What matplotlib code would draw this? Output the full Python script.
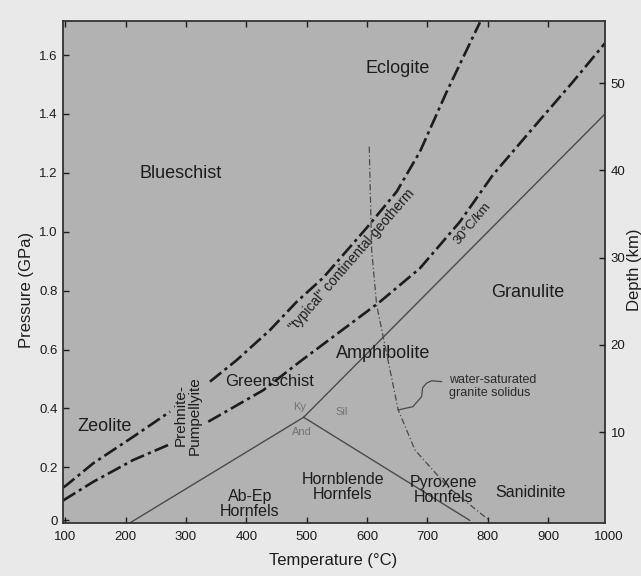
import numpy as np
import matplotlib
matplotlib.use("Agg")
import matplotlib.pyplot as plt
from matplotlib.transforms import blended_transform_factory

plt.rcParams['font.family'] = ['Liberation Sans', 'DejaVu Sans']

# ---------------- data ----------------
temp_ticks = [100, 200, 300, 400, 500, 600, 700, 800, 900, 1000]
pressure_ticks = [0.02, 0.2, 0.4, 0.6, 0.8, 1.0, 1.2, 1.4, 1.6]
pressure_labels = ["0", "0.2", "0.4", "0.6", "0.8", "1.0", "1.2", "1.4", "1.6"]
depth_ticks = [10, 20, 30, 40, 50]

nan = np.nan
# "typical" continental geotherm
geotherm_T = [96.5, 102.6, 146.7, 212.9, 273.7, nan, 339.9, 384.1, 439.2, 483.4,
              527.0, 599.3, 649.0, 687.6, 731.8, 786.9]
geotherm_P = [0.131, 0.140, 0.214, 0.304, 0.389, nan, 0.491, 0.564, 0.666, 0.762,
              0.843, 1.013, 1.136, 1.272, 1.475, 1.711]
# 30 C/km gradient
grad30_T = [96.5, 102.6, 146.7, 212.9, 270.8, nan, 337.0, 428.1, 488.9, 621.3,
            687.6, 753.8, 808.4, 869.7, 940.9, 993.9]
grad30_P = [0.087, 0.095, 0.151, 0.225, 0.276, nan, 0.355, 0.462, 0.559, 0.762,
            0.876, 1.034, 1.193, 1.340, 1.509, 1.640]
# Al2SiO5 boundaries
ky_sil_T = [495, 994]
ky_sil_P = [0.37, 1.40]
and_sil_T = [495, 770]
and_sil_P = [0.37, 0.02]
ky_and_T = [207, 495]
ky_and_P = [0.011, 0.37]
# water-saturated granite solidus
solidus_T = [603.6, 607.6, 615.9, 651.6, 679.3, 734.0, 801.8]
solidus_P = [1.289, 0.938, 0.751, 0.395, 0.259, 0.133, 0.021]
# leader from label to solidus
leader_T = [651.6, 675.9, 690.3, 692.0, 698.6, 706.9, 723.4]
leader_P = [0.395, 0.406, 0.440, 0.470, 0.486, 0.494, 0.491]

facies_names = ["Eclogite", "Blueschist", "Zeolite", "Greenschist", "Amphibolite",
                "Granulite", "Ab-Ep\nHornfels", "Hornblende\nHornfels",
                "Pyroxene\nHornfels", "Sanidinite"]
mineral_names = ["Ky", "And", "Sil"]

# ---------------- figure ----------------
BG = '#e9e9e9'
PLOT = '#b2b2b2'
INK = '#1c1c1c'

fig = plt.figure(figsize=(6.41, 5.76), dpi=100, facecolor=BG)
ax = fig.add_axes([63 / 641, 53 / 576, 542 / 641, 502 / 576])
ax.set_facecolor(PLOT)

T0, T1 = 96.5, 994.0
P0, P1 = 0.011, 1.7155
ax.set_xlim(T0, T1)
ax.set_ylim(P0, P1)

dashdot = (0, (5.5, 1.6, 1.2, 1.6))
ax.plot(geotherm_T, geotherm_P, color=INK, lw=1.9, linestyle=dashdot)
ax.plot(grad30_T, grad30_P, color=INK, lw=1.9, linestyle=dashdot)
for tt, pp in [(ky_sil_T, ky_sil_P), (and_sil_T, and_sil_P), (ky_and_T, ky_and_P)]:
    ax.plot(tt, pp, color='#4a4a4a', lw=1.0)
ax.plot(solidus_T, solidus_P, color='#4a4a4a', lw=0.9, linestyle=(0, (5, 2, 1, 2)))
ax.plot(leader_T, leader_P, color='#4a4a4a', lw=0.9)

facies_pos = [(651, 1.555), (292, 1.199), (165, 0.338), (439, 0.493), (626, 0.588),
              (866, 0.792), (406, 0.077), (560, 0.133), (727, 0.123), (871, 0.113)]
facies_size = [13, 13, 13, 12, 13, 13, 11.5, 11.5, 11.5, 11.5]
for name, (tx, py), fs in zip(facies_names, facies_pos, facies_size):
    ax.text(tx, py, name, ha='center', va='center', fontsize=fs, color=INK,
            linespacing=1.0)

ax.text(303, 0.377, "Prehnite-\nPumpellyite", rotation=90, ha='center', va='center',
        fontsize=11, color=INK, linespacing=1.0)

mineral_pos = [(489, 0.405), (492, 0.320), (558, 0.387)]
for name, (tx, py) in zip(mineral_names, mineral_pos):
    ax.text(tx, py, name, ha='center', va='center', fontsize=8, color='#737373')

ax.text(575, 0.902, '"typical" continental geotherm', rotation=49, ha='center',
        va='center', fontsize=10, color=INK, rotation_mode='anchor')
ax.text(774, 1.026, '30°C/km', rotation=50, ha='center', va='center',
        fontsize=9.5, color=INK, rotation_mode='anchor')
ax.text(736, 0.474, 'water-saturated\ngranite solidus', ha='left', va='center',
        fontsize=9, color='#2a2a2a', linespacing=1.15)

# axes styling
for sp in ax.spines.values():
    sp.set_color('#333333')
    sp.set_linewidth(1.3)
ax.set_xticks([t for t in temp_ticks if t <= T1])
ax.set_yticks(pressure_ticks)
ax.set_yticklabels(pressure_labels)
ax.tick_params(axis='x', direction='in', length=4, width=1, top=True, labeltop=False,
               pad=6, labelsize=9.5, colors=INK)
ax.tick_params(axis='y', direction='in', length=4, width=1, pad=4, labelsize=9.5,
               colors=INK)
trans = blended_transform_factory(ax.transData, ax.transAxes)
for t in temp_ticks:
    if t > T1:
        ax.text(t, -0.0166, str(t), transform=trans, ha='center', va='top',
                fontsize=9.5, color=INK, clip_on=False)

# depth axis
ax2 = ax.twinx()
d0 = (P0 - 0.0228) / 0.02963
d1 = (P1 - 0.0228) / 0.02963
ax2.set_ylim(d0, d1)
ax2.set_yticks(depth_ticks)
ax2.tick_params(axis='y', direction='in', length=4, width=1, pad=4, labelsize=9.5,
                colors=INK)
for sp in ax2.spines.values():
    sp.set_visible(False)

fig.text(27 / 641, 1 - 290 / 576, "Pressure (GPa)", rotation=90, ha='center',
         va='center', fontsize=12, color=INK)
fig.text(333 / 641, 1 - 560 / 576, "Temperature (°C)", ha='center', va='center',
         fontsize=12, color=INK)
fig.text(634 / 641, 1 - 270 / 576, "Depth (km)", rotation=90, ha='center',
         va='center', fontsize=12, color=INK)

fig.savefig("out.png", dpi=100, facecolor=BG)
